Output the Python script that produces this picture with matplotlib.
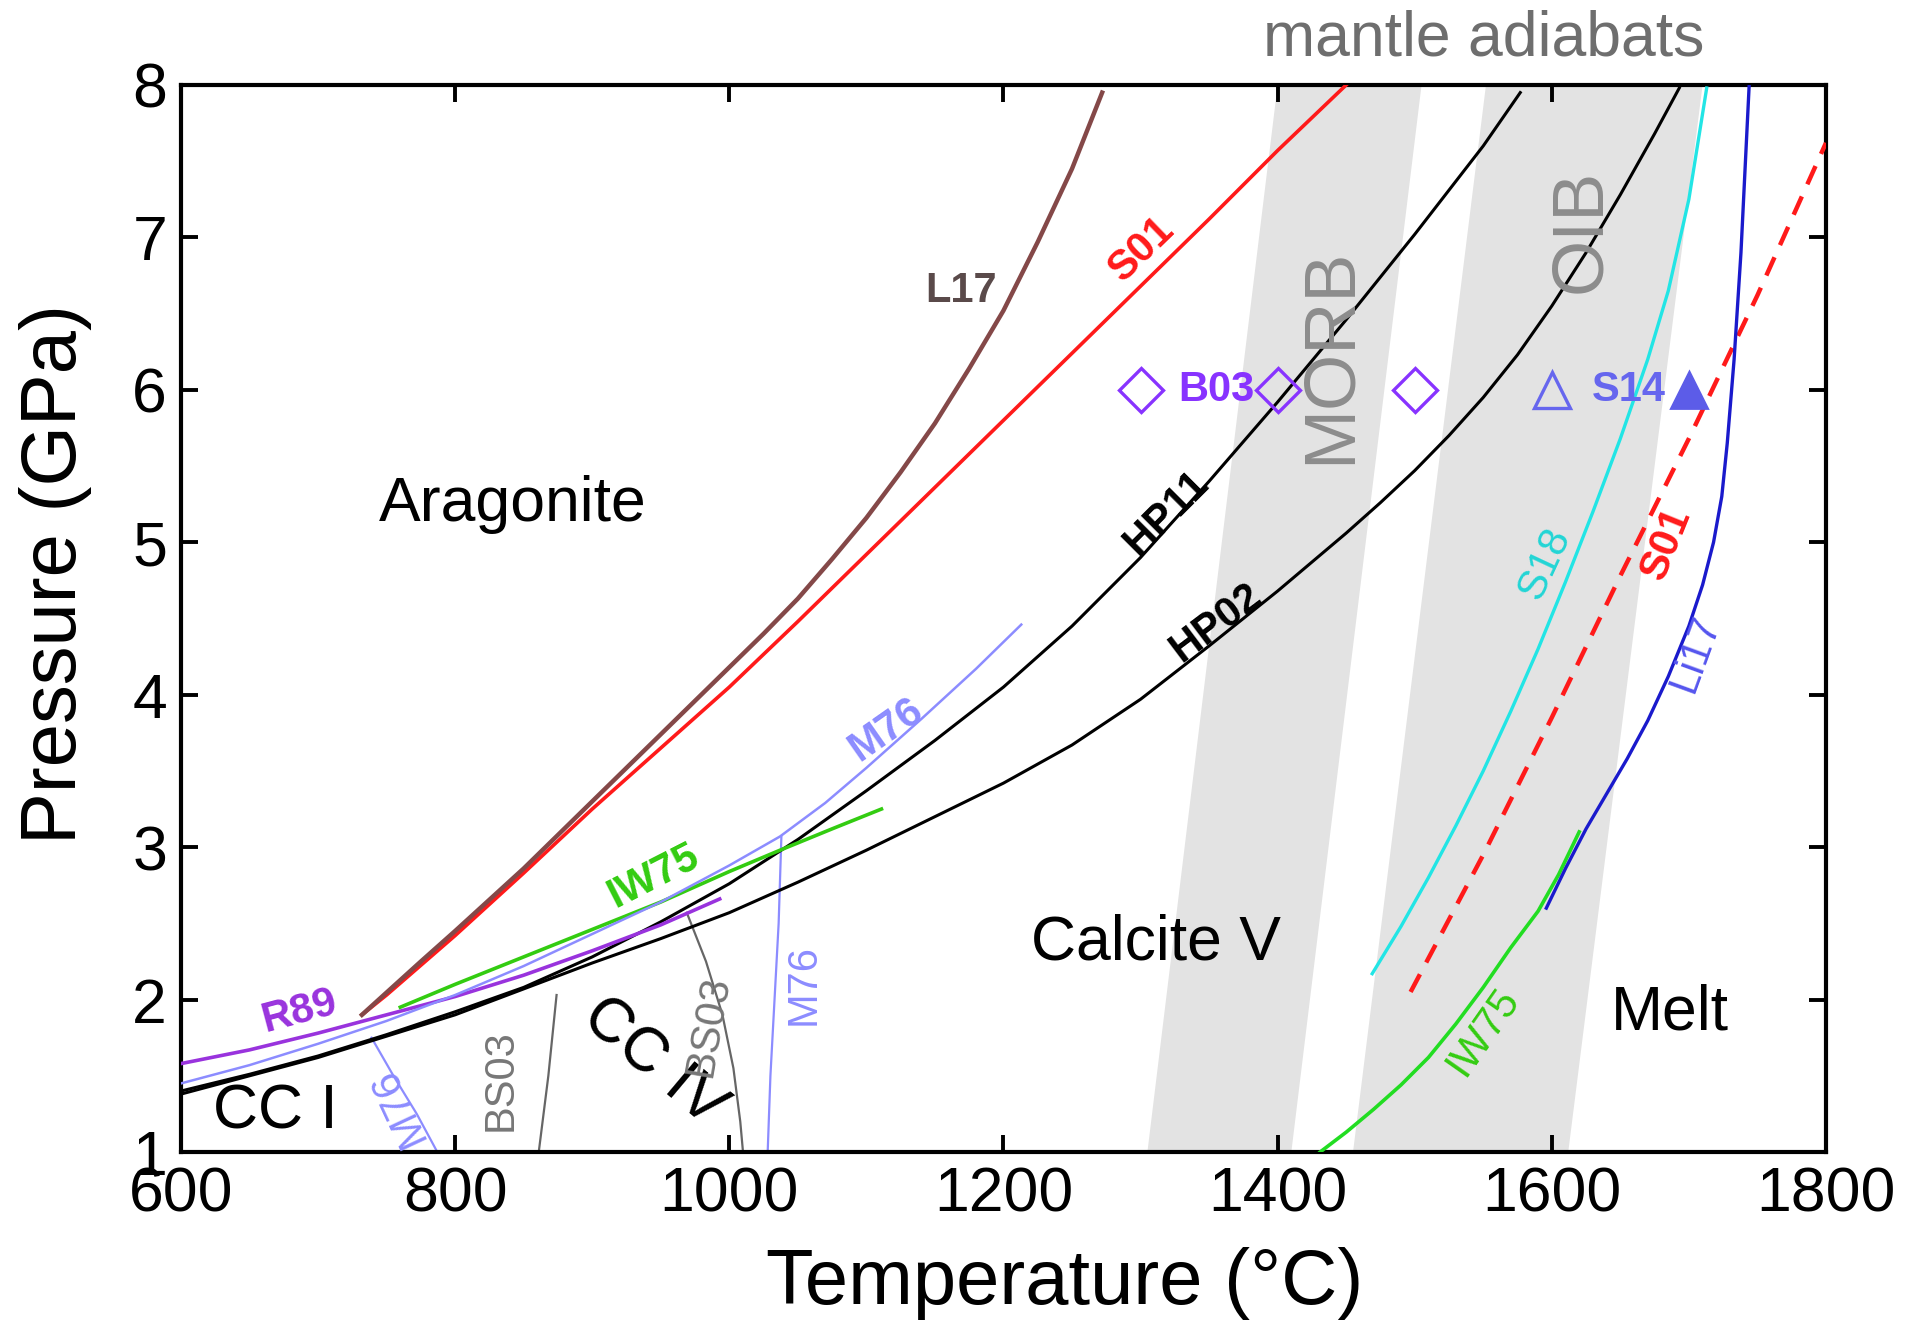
import matplotlib
matplotlib.use("Agg")
import matplotlib.pyplot as plt

plt.rcParams['font.family'] = ['Liberation Sans', 'DejaVu Sans']

# ---------------- data (T in degC, P in GPa) ----------------
L17_T = [732, 775, 800, 850, 900, 950, 1000, 1025, 1050, 1075, 1100, 1125, 1150,
         1175, 1200, 1225, 1250, 1272]
L17_P = [1.90, 2.25, 2.45, 2.86, 3.30, 3.74, 4.18, 4.40, 4.63, 4.89, 5.16, 5.46, 5.78,
         6.14, 6.52, 6.97, 7.45, 7.95]

S01_T = [732, 750, 800, 850, 900, 950, 1000, 1050, 1100, 1150, 1200, 1250, 1300,
         1350, 1400, 1450]
S01_P = [1.90, 2.03, 2.42, 2.83, 3.25, 3.65, 4.05, 4.48, 4.92, 5.36, 5.80, 6.24, 6.68,
         7.12, 7.57, 8.00]

HP11_T = [600, 650, 700, 750, 800, 850, 900, 950, 1000, 1050, 1100, 1150, 1200,
          1250, 1300, 1350, 1400, 1425, 1450, 1475, 1500, 1525, 1550, 1577]
HP11_P = [1.40, 1.51, 1.63, 1.77, 1.92, 2.08, 2.28, 2.51, 2.76, 3.05, 3.37, 3.70, 4.05,
          4.45, 4.90, 5.40, 5.92, 6.19, 6.46, 6.74, 7.02, 7.31, 7.60, 7.95]

HP02_T = [600, 650, 700, 750, 800, 850, 900, 950, 1000, 1050, 1100, 1150, 1200,
          1250, 1300, 1350, 1400, 1450, 1475, 1500, 1525, 1550, 1575, 1600, 1625,
          1650, 1675, 1693]
HP02_P = [1.38, 1.50, 1.62, 1.76, 1.90, 2.07, 2.24, 2.40, 2.57, 2.77, 2.98, 3.20, 3.42,
          3.67, 3.97, 4.32, 4.68, 5.06, 5.26, 5.47, 5.70, 5.95, 6.23, 6.55, 6.90,
          7.28, 7.68, 7.98]

M76_T = [600, 650, 700, 750, 800, 850, 900, 950, 1000, 1037, 1070, 1100, 1140, 1180, 1213]
M76_P = [1.45, 1.57, 1.71, 1.86, 2.03, 2.22, 2.43, 2.64, 2.88, 3.07, 3.29, 3.52, 3.84, 4.17, 4.46]

M76a_T = [739, 755, 772, 787]            # CC I / CC IV boundary
M76a_P = [1.75, 1.50, 1.25, 1.00]
M76b_T = [1038, 1036, 1033, 1030, 1028]  # CC IV / calcite V boundary
M76b_P = [3.07, 2.50, 2.00, 1.50, 1.00]

IW75a_T = [760, 800, 850, 900, 950, 1000, 1037, 1075, 1111]
IW75a_P = [1.95, 2.10, 2.28, 2.46, 2.64, 2.84, 2.98, 3.12, 3.25]

R89_T = [600, 650, 700, 750, 800, 850, 900, 950, 993]
R89_P = [1.58, 1.67, 1.78, 1.90, 2.02, 2.16, 2.32, 2.49, 2.66]

BS03a_T = [874, 868, 861]
BS03a_P = [2.03, 1.50, 1.00]
BS03b_T = [969, 983, 995, 1003, 1008, 1010]
BS03b_P = [2.57, 2.25, 1.90, 1.55, 1.20, 1.00]

S18_T = [1469, 1490, 1510, 1530, 1550, 1570, 1590, 1610, 1630, 1650, 1670, 1685, 1700, 1713]
S18_P = [2.17, 2.48, 2.80, 3.14, 3.50, 3.89, 4.30, 4.74, 5.20, 5.68, 6.20, 6.65, 7.25, 7.98]

S01m_T = [1497, 1550, 1600, 1650, 1700, 1750, 1800]   # melting curve (dashed)
S01m_P = [2.05, 2.95, 3.85, 4.78, 5.68, 6.62, 7.62]

Li17_T = [1596, 1610, 1625, 1640, 1655, 1670, 1685, 1700, 1710, 1718, 1724, 1728,
          1733, 1738, 1744]
Li17_P = [2.60, 2.86, 3.12, 3.35, 3.58, 3.83, 4.12, 4.45, 4.72, 5.00, 5.30, 5.65,
          6.20, 6.90, 8.00]

IW75b_T = [1431, 1450, 1470, 1490, 1510, 1530, 1550, 1570, 1590, 1605, 1620]
IW75b_P = [1.00, 1.13, 1.28, 1.44, 1.62, 1.84, 2.08, 2.34, 2.58, 2.82, 3.10]

B03_T = [1300, 1400, 1500]
B03_P = [6, 6, 6]
S14_open_T, S14_open_P = [1600], [6]
S14_fill_T, S14_fill_P = [1700], [6]

# adiabat bands: T at P = 1 GPa (bottom) and P = 8 GPa (top)
MORB_bottom = [1305, 1410]
MORB_top = [1400, 1505]
OIB_bottom = [1455, 1612]
OIB_top = [1552, 1710]

x_ticks = [600, 800, 1000, 1200, 1400, 1600, 1800]
y_ticks = [1, 2, 3, 4, 5, 6, 7, 8]

# ---------------- figure ----------------
fig = plt.figure(figsize=(19.15, 13.38), dpi=100)
ax = fig.add_axes([0.0945, 0.139, 0.859, 0.7975])
ax.set_xlim(600, 1800)
ax.set_ylim(1, 8)

band_col = '#e3e3e3'
for bot, top in [(MORB_bottom, MORB_top), (OIB_bottom, OIB_top)]:
    ax.fill([bot[0], bot[1], top[1], top[0]], [1, 1, 8, 8],
            color=band_col, lw=0, zorder=0)

ax.plot(BS03a_T, BS03a_P, color='#666666', lw=1.6, zorder=2)
ax.plot(BS03b_T, BS03b_P, color='#666666', lw=1.6, zorder=2)
ax.plot(M76a_T, M76a_P, color='#8c8cff', lw=1.6, zorder=2)
ax.plot(M76b_T, M76b_P, color='#8c8cff', lw=1.6, zorder=2)

ax.plot(HP02_T, HP02_P, color='black', lw=2.2, zorder=3)
ax.plot(HP11_T, HP11_P, color='black', lw=2.2, zorder=3)
ax.plot(R89_T, R89_P, color='#9933dd', lw=2.6, zorder=4)
ax.plot(IW75a_T, IW75a_P, color='#33cc11', lw=2.6, zorder=4)
ax.plot(M76_T, M76_P, color='#8c8cff', lw=1.8, zorder=5)
ax.plot(S01_T, S01_P, color='#ff1a1a', lw=2.6, zorder=5)
ax.plot(L17_T, L17_P, color='#844848', lw=3.2, zorder=6)

ax.plot(S18_T, S18_P, color='#22e5e5', lw=2.4, zorder=4)
ax.plot(S01m_T, S01m_P, color='#ff1a1a', lw=3.2, dashes=(4.5, 3), zorder=4)
ax.plot(IW75b_T, IW75b_P, color='#22dd22', lw=2.6, zorder=4)
ax.plot(Li17_T, Li17_P, color='#1a1acc', lw=2.4, zorder=5)

ax.plot(B03_T, B03_P, ls='none', marker='D', ms=22, mfc='none', mec='#8833ff', mew=2.4, zorder=7)
ax.plot(S14_open_T, S14_open_P, ls='none', marker='^', ms=26, mfc='none', mec='#6666ee', mew=2.4, zorder=7)
ax.plot(S14_fill_T, S14_fill_P, ls='none', marker='^', ms=26, mfc='#5c5ce8', mec='#5c5ce8', mew=2.0, zorder=7)

# ---------------- text ----------------
big = 45
ax.text(842, 5.25, 'Aragonite', fontsize=big, ha='center', va='center')
ax.text(1311, 2.37, 'Calcite V', fontsize=big, ha='center', va='center')
ax.text(1686, 1.91, 'Melt', fontsize=big, ha='center', va='center')
ax.text(669, 1.26, 'CC I', fontsize=big, ha='center', va='center')
ax.text(945, 1.59, 'CC IV', fontsize=big, ha='center', va='center', rotation=-40)
ax.text(1550, 8.30, 'mantle adiabats', fontsize=big, color='#6e6e6e',
        ha='center', va='center', clip_on=False)
ax.text(1439, 6.22, 'MORB', fontsize=52, color='#8c8c8c', ha='center', va='center', rotation=90)
ax.text(1622, 7.04, 'OIB', fontsize=52, color='#8c8c8c', ha='center', va='center', rotation=90)

lab = 30
def label(x, y, s, c, rot=0, bold=True, size=lab):
    ax.text(x, y, s, fontsize=size, color=c, ha='center', va='center', rotation=rot,
            fontweight='bold' if bold else 'normal', zorder=8)

label(1169, 6.65, 'L17', '#5a4a4a')
label(1301, 6.92, 'S01', '#ff1a1a', 44)
label(1319, 5.19, 'HP11', 'black', 45)
label(1355, 4.47, 'HP02', 'black', 37)
label(1114, 3.77, 'M76', '#8c8cff', 35)
label(945, 2.81, 'IW75', '#33cc11', 27)
label(686, 1.92, 'R89', '#9933dd', 15)
label(758, 1.30, 'M76', '#8c8cff', 115, bold=False)
label(833, 1.47, 'BS03', '#777777', 90, bold=False)
label(985, 1.83, 'BS03', '#777777', 80, bold=False)
label(1054, 2.10, 'M76', '#8c8cff', 90, bold=False)
label(1595, 4.86, 'S18', '#22d5d5', 65, bold=False)
label(1684, 4.99, 'S01', '#ff1a1a', 68)
label(1705, 4.27, 'Li17', '#5555ee', 70, bold=False)
label(1550, 1.79, 'IW75', '#33cc11', 55, bold=False)
label(1355, 6.0, 'B03', '#8833ff')
label(1656, 6.0, 'S14', '#6666ee')

# ---------------- axes styling ----------------
ax.set_xticks(x_ticks)
ax.set_yticks(y_ticks)
ax.tick_params(direction='in', length=12, width=2.8, labelsize=45, pad=10,
               top=True, right=True)
for sp in ax.spines.values():
    sp.set_linewidth(3.0)
ax.set_xlabel('Temperature (°C)', fontsize=56)
ax.set_ylabel('Pressure (GPa)', fontsize=56)
ax.xaxis.label.set_verticalalignment('center')
ax.yaxis.label.set_verticalalignment('center')
ax.xaxis.set_label_coords(0.537, -0.123)
ax.yaxis.set_label_coords(-0.0765, 0.542)

fig.savefig('out.png', dpi=100)
